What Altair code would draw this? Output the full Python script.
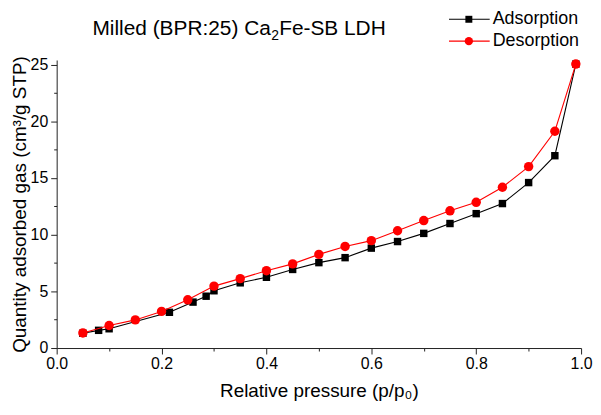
import altair as alt
import pandas as pd

SERIES = ["Adsorption", "Desorption"]
COLORS = ["black", "red"]
SHAPES = ["square", "circle"]

ads_p = [0.05, 0.08, 0.10, 0.215, 0.26, 0.285, 0.30, 0.35, 0.40, 0.45, 0.50, 0.55,
         0.60, 0.65, 0.70, 0.75, 0.80, 0.85, 0.90, 0.95, 0.99]
ads_q = [1.30, 1.56, 1.70, 3.15, 4.05, 4.57, 5.05, 5.75, 6.24, 6.93, 7.53, 7.97,
         8.81, 9.39, 10.11, 10.98, 11.85, 12.74, 14.59, 16.96, 25.04]
des_p = [0.05, 0.10, 0.15, 0.20, 0.25, 0.30, 0.35, 0.40, 0.45, 0.50, 0.55, 0.60,
         0.65, 0.70, 0.75, 0.80, 0.85, 0.90, 0.95, 0.99]
des_q = [1.33, 1.99, 2.48, 3.23, 4.25, 5.46, 6.12, 6.82, 7.42, 8.26, 8.96, 9.47,
         10.34, 11.24, 12.10, 12.85, 14.18, 16.00, 19.12, 25.04]

X_TICKS = [round(i * 0.1, 1) for i in range(11)]
Y_TICKS = [i * 2.5 for i in range(11)]

TITLE_PARTS = ["Milled (BPR:25) Ca", "2", "Fe-SB LDH"]
X_TITLE = "Relative pressure (p/p₀)"
Y_TITLE = "Quantity adsorbed gas (cm³/g STP)"

FONT = "Liberation Sans"

dfs = [
    pd.DataFrame({"p": ads_p, "q": ads_q, "series": SERIES[0]}),
    pd.DataFrame({"p": des_p, "q": des_q, "series": SERIES[1]}),
]

x_axis = alt.Axis(
    values=X_TICKS, title=X_TITLE, format=".1f",
    labelExpr="round(datum.value*10) % 2 == 0 ? datum.label : ''",
    tickSize={"condition": {"test": "round(datum.value*10) % 2 == 1", "value": 3}, "value": 6},
    labelOverlap=False, labelFlush=False, titlePadding=10, labelPadding=2,
)
y_axis = alt.Axis(
    values=Y_TICKS, title=Y_TITLE,
    labelExpr="datum.value % 5 == 0 ? datum.label : ''",
    tickSize={"condition": {"test": "datum.value % 5 != 0", "value": 3}, "value": 6},
    labelOverlap=False, labelFlush=False, titlePadding=1, labelPadding=3,
)
xs = alt.Scale(domain=[0, 1], nice=False, zero=False)
ys = alt.Scale(domain=[0, 25.4], nice=False)

layers = []
for i, d in enumerate(dfs):
    base = alt.Chart(d)
    enc_x = alt.X("p:Q", scale=xs, axis=x_axis)
    enc_y = alt.Y("q:Q", scale=ys, axis=y_axis)
    layers.append(base.mark_line(color=COLORS[i], strokeWidth=1.1).encode(x=enc_x, y=enc_y))
    layers.append(base.mark_point(filled=True, opacity=1, color=COLORS[i], shape=SHAPES[i],
                                  size=56 if i == 0 else 90).encode(x=enc_x, y=enc_y))

# manual legend (line + marker + label), positioned above the plot
leg = pd.DataFrame({"series": SERIES})
for i, name in enumerate(SERIES):
    ld = alt.Chart(leg).transform_filter(alt.datum.series == name)
    yv = -41 + 22 * i
    layers.append(ld.mark_rule(color=COLORS[i], strokeWidth=1.1).encode(
        x=alt.value(395), x2=alt.value(436), y=alt.value(yv)))
    layers.append(ld.mark_point(filled=True, opacity=1, color=COLORS[i], shape=SHAPES[i],
                                size=49 if i == 0 else 70).encode(
        x=alt.value(415), y=alt.value(yv)))
    layers.append(ld.mark_text(align="left", baseline="middle", font=FONT, fontSize=18,
                               color="black").encode(
        x=alt.value(439), y=alt.value(yv), text="series:N"))

# chart title with a real subscript "2"
tdf = pd.DataFrame({"t": TITLE_PARTS})
title_specs = [(36, -25, 21), (216, -20, 14), (224, -25, 21)]
for part, (tx, ty, fs) in zip(TITLE_PARTS, title_specs):
    layers.append(alt.Chart(tdf).transform_filter(alt.datum.t == part).mark_text(
        align="left", baseline="alphabetic", font=FONT, fontSize=fs, color="black"
    ).encode(x=alt.value(tx), y=alt.value(ty), text="t:N"))

chart = alt.layer(*layers).properties(
    width=528, height=290,
    autosize=alt.AutoSizeParams(type="none"),
    padding={"left": 49, "top": 51, "right": 12, "bottom": 55},
).configure_view(stroke=None).configure_axis(
    grid=False, domainColor="#222", tickColor="#222", domainWidth=1, tickWidth=1,
    labelFont=FONT, labelFontSize=16, labelColor="black",
    titleFont=FONT, titleFontSize=19, titleFontWeight="normal", titleColor="black",
)

chart.save("out.html", embed_options={"renderer": "svg", "actions": False})
